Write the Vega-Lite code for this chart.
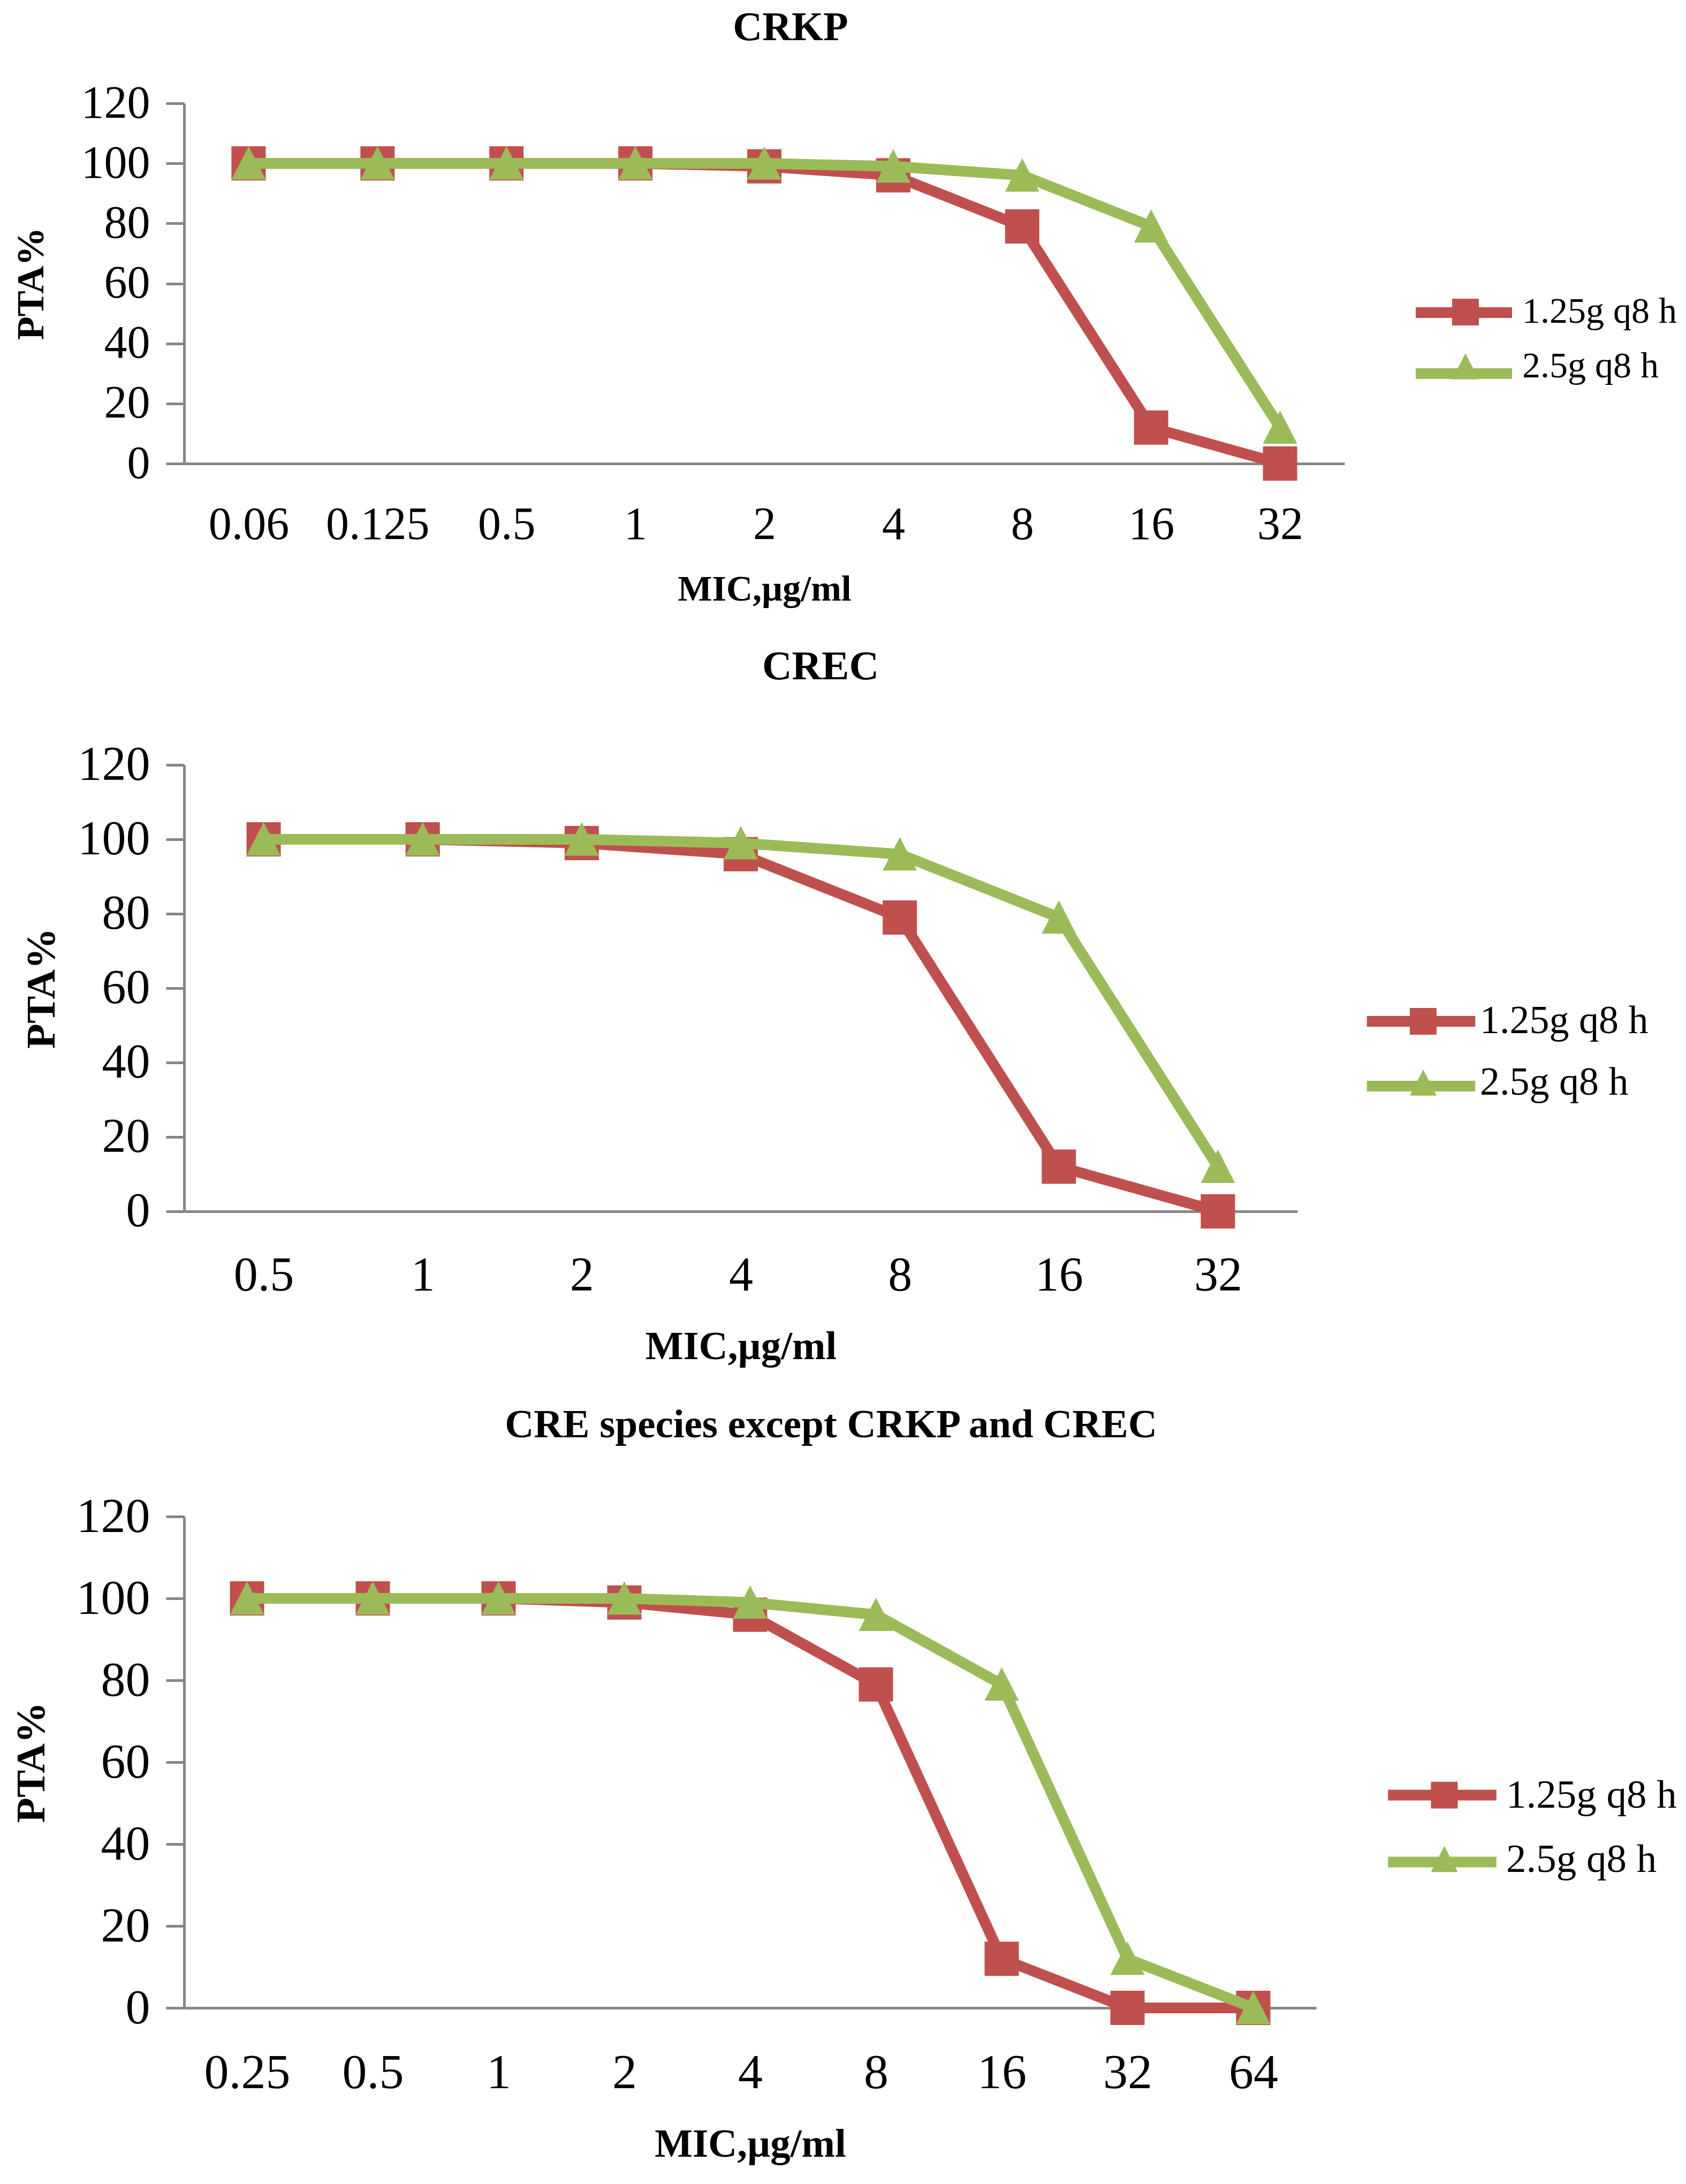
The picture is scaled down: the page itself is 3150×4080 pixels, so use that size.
{
  "$schema": "https://vega.github.io/schema/vega-lite/v6.json",
  "padding": {"left": 20, "top": 14, "right": 0, "bottom": 10},
  "background": "white",
  "columns": 1,
  "align": "none",
  "spacing": 72,
  "resolve": {"scale": {"color": "independent", "shape": "independent", "stroke": "independent"}},
  "config": {
    "font": "Liberation Serif",
    "view": {"stroke": null},
    "axis": {
      "grid": false,
      "domainColor": "#868686",
      "domainWidth": 5,
      "tickColor": "#868686",
      "tickWidth": 5,
      "labelColor": "#000000",
      "titleColor": "#000000",
      "labelFont": "Liberation Serif",
      "titleFont": "Liberation Serif",
      "titleFontWeight": "bold",
      "labelLimit": 2000
    },
    "legend": {
      "labelFont": "Liberation Serif",
      "labelColor": "#000000",
      "title": null,
      "padding": 0,
      "labelLimit": 2000
    },
    "title": {"font": "Liberation Serif", "fontWeight": "bold", "color": "#000000", "anchor": "middle", "frame": "group"}
  },
  "concat": [
    {
      "title": {"text": "CRKP", "fontSize": 76, "offset": 59, "dx": 49},
      "width": 2168,
      "height": 673,
      "data": {"values": [
        {"mic": "0.06", "series": "1.25g q8 h", "pta": 100},
        {"mic": "0.125", "series": "1.25g q8 h", "pta": 100},
        {"mic": "0.5", "series": "1.25g q8 h", "pta": 100},
        {"mic": "1", "series": "1.25g q8 h", "pta": 100},
        {"mic": "2", "series": "1.25g q8 h", "pta": 99},
        {"mic": "4", "series": "1.25g q8 h", "pta": 96},
        {"mic": "8", "series": "1.25g q8 h", "pta": 79},
        {"mic": "16", "series": "1.25g q8 h", "pta": 12},
        {"mic": "32", "series": "1.25g q8 h", "pta": 0},
        {"mic": "0.06", "series": "2.5g q8 h", "pta": 100},
        {"mic": "0.125", "series": "2.5g q8 h", "pta": 100},
        {"mic": "0.5", "series": "2.5g q8 h", "pta": 100},
        {"mic": "1", "series": "2.5g q8 h", "pta": 100},
        {"mic": "2", "series": "2.5g q8 h", "pta": 100},
        {"mic": "4", "series": "2.5g q8 h", "pta": 99},
        {"mic": "8", "series": "2.5g q8 h", "pta": 96},
        {"mic": "16", "series": "2.5g q8 h", "pta": 79},
        {"mic": "32", "series": "2.5g q8 h", "pta": 12}
      ]},
      "encoding": {
        "x": {"field": "mic", "type": "ordinal",
          "scale": {"type": "point", "padding": 0.5, "domain": ["0.06", "0.125", "0.5", "1", "2", "4", "8", "16", "32"]},
          "axis": {"title": "MIC,µg/ml", "labelAngle": 0, "ticks": false, "labelPadding": 72, "labelFontSize": 86, "titleFontSize": 68, "titlePadding": 44}},
        "y": {"field": "pta", "type": "quantitative",
          "scale": {"domain": [0, 120], "nice": false},
          "axis": {"title": "PTA%", "values": [0, 20, 40, 60, 80, 100, 120], "tickSize": 34, "labelPadding": 30, "labelFontSize": 86, "titleFontSize": 72, "titlePadding": 56}}
      },
      "layer": [
        {"transform": [{"filter": "datum.series === '1.25g q8 h'"}], "mark": {"type": "line", "strokeWidth": 20, "strokeJoin": "miter"},
          "encoding": {"stroke": {"field": "series", "type": "nominal", "scale": {"range": ["#C0504D", "#9BBB59"]},
            "legend": {"orient": "none", "legendX": 2356, "legendY": 356, "labelFontSize": 68, "symbolSize": 2500, "labelOffset": 72, "rowPadding": 34, "symbolType": "M-3.6,0H3.6", "symbolStrokeWidth": 20, "labelExpr": "''"}}}},
        {"transform": [{"filter": "datum.series === '1.25g q8 h'"}], "mark": {"type": "point", "filled": true, "opacity": 1, "size": 4096},
          "encoding": {
            "color": {"field": "series", "type": "nominal", "scale": {"domain": ["1.25g q8 h", "2.5g q8 h"], "range": ["#C0504D", "#9BBB59"]},
              "legend": {"orient": "none", "legendX": 2360, "legendY": 356, "labelFontSize": 68, "symbolSize": 2500, "labelOffset": 72, "rowPadding": 34, "symbolStrokeWidth": 0}},
            "shape": {"field": "series", "type": "nominal", "scale": {"domain": ["1.25g q8 h", "2.5g q8 h"], "range": ["M-1,-1H1V1H-1Z", "M0,-1L1,0.95L-1,0.95Z"]},
              "legend": {"orient": "none", "legendX": 2360, "legendY": 356, "labelFontSize": 68, "symbolSize": 2500, "labelOffset": 72, "rowPadding": 34, "symbolStrokeWidth": 0}}}},
        {"transform": [{"filter": "datum.series === '2.5g q8 h'"}], "mark": {"type": "line", "strokeWidth": 20, "strokeJoin": "miter"},
          "encoding": {"stroke": {"field": "series", "type": "nominal", "scale": {"range": ["#C0504D", "#9BBB59"]},
            "legend": {"orient": "none", "legendX": 2356, "legendY": 356, "labelFontSize": 68, "symbolSize": 2500, "labelOffset": 72, "rowPadding": 34, "symbolType": "M-3.6,0H3.6", "symbolStrokeWidth": 20, "labelExpr": "''"}}}},
        {"transform": [{"filter": "datum.series === '2.5g q8 h'"}], "mark": {"type": "point", "filled": true, "opacity": 1, "size": 4096},
          "encoding": {
            "color": {"field": "series", "type": "nominal", "scale": {"domain": ["1.25g q8 h", "2.5g q8 h"], "range": ["#C0504D", "#9BBB59"]},
              "legend": {"orient": "none", "legendX": 2360, "legendY": 356, "labelFontSize": 68, "symbolSize": 2500, "labelOffset": 72, "rowPadding": 34, "symbolStrokeWidth": 0}},
            "shape": {"field": "series", "type": "nominal", "scale": {"domain": ["1.25g q8 h", "2.5g q8 h"], "range": ["M-1,-1H1V1H-1Z", "M0,-1L1,0.95L-1,0.95Z"]},
              "legend": {"orient": "none", "legendX": 2360, "legendY": 356, "labelFontSize": 68, "symbolSize": 2500, "labelOffset": 72, "rowPadding": 34, "symbolStrokeWidth": 0}}}}
      ]
    },
    {
      "title": {"text": "CREC", "fontSize": 77, "offset": 99, "dx": 149},
      "width": 2080,
      "height": 834,
      "data": {"values": [
        {"mic": "0.5", "series": "1.25g q8 h", "pta": 100},
        {"mic": "1", "series": "1.25g q8 h", "pta": 100},
        {"mic": "2", "series": "1.25g q8 h", "pta": 99},
        {"mic": "4", "series": "1.25g q8 h", "pta": 96},
        {"mic": "8", "series": "1.25g q8 h", "pta": 79},
        {"mic": "16", "series": "1.25g q8 h", "pta": 12},
        {"mic": "32", "series": "1.25g q8 h", "pta": 0},
        {"mic": "0.5", "series": "2.5g q8 h", "pta": 100},
        {"mic": "1", "series": "2.5g q8 h", "pta": 100},
        {"mic": "2", "series": "2.5g q8 h", "pta": 100},
        {"mic": "4", "series": "2.5g q8 h", "pta": 99},
        {"mic": "8", "series": "2.5g q8 h", "pta": 96},
        {"mic": "16", "series": "2.5g q8 h", "pta": 79},
        {"mic": "32", "series": "2.5g q8 h", "pta": 12}
      ]},
      "encoding": {
        "x": {"field": "mic", "type": "ordinal",
          "scale": {"type": "point", "padding": 0.5, "domain": ["0.5", "1", "2", "4", "8", "16", "32"]},
          "axis": {"title": "MIC,µg/ml", "labelAngle": 0, "ticks": false, "labelPadding": 76, "labelFontSize": 90, "titleFontSize": 75, "titlePadding": 51}},
        "y": {"field": "pta", "type": "quantitative",
          "scale": {"domain": [0, 120], "nice": false},
          "axis": {"title": "PTA%", "values": [0, 20, 40, 60, 80, 100, 120], "tickSize": 34, "labelPadding": 30, "labelFontSize": 90, "titleFontSize": 77, "titlePadding": 28}}
      },
      "layer": [
        {"transform": [{"filter": "datum.series === '1.25g q8 h'"}], "mark": {"type": "line", "strokeWidth": 20, "strokeJoin": "miter"},
          "encoding": {"stroke": {"field": "series", "type": "nominal", "scale": {"range": ["#C0504D", "#9BBB59"]},
            "legend": {"orient": "none", "legendX": 2274, "legendY": 442, "labelFontSize": 74, "symbolSize": 2500, "labelOffset": 69, "rowPadding": 41, "symbolType": "M-4.05,0H4.05", "symbolStrokeWidth": 20, "labelExpr": "''"}}}},
        {"transform": [{"filter": "datum.series === '1.25g q8 h'"}], "mark": {"type": "point", "filled": true, "opacity": 1, "size": 4096},
          "encoding": {
            "color": {"field": "series", "type": "nominal", "scale": {"domain": ["1.25g q8 h", "2.5g q8 h"], "range": ["#C0504D", "#9BBB59"]},
              "legend": {"orient": "none", "legendX": 2278, "legendY": 442, "labelFontSize": 74, "symbolSize": 2500, "labelOffset": 69, "rowPadding": 41, "symbolStrokeWidth": 0}},
            "shape": {"field": "series", "type": "nominal", "scale": {"domain": ["1.25g q8 h", "2.5g q8 h"], "range": ["M-1,-1H1V1H-1Z", "M0,-1L1,0.95L-1,0.95Z"]},
              "legend": {"orient": "none", "legendX": 2278, "legendY": 442, "labelFontSize": 74, "symbolSize": 2500, "labelOffset": 69, "rowPadding": 41, "symbolStrokeWidth": 0}}}},
        {"transform": [{"filter": "datum.series === '2.5g q8 h'"}], "mark": {"type": "line", "strokeWidth": 20, "strokeJoin": "miter"},
          "encoding": {"stroke": {"field": "series", "type": "nominal", "scale": {"range": ["#C0504D", "#9BBB59"]},
            "legend": {"orient": "none", "legendX": 2274, "legendY": 442, "labelFontSize": 74, "symbolSize": 2500, "labelOffset": 69, "rowPadding": 41, "symbolType": "M-4.05,0H4.05", "symbolStrokeWidth": 20, "labelExpr": "''"}}}},
        {"transform": [{"filter": "datum.series === '2.5g q8 h'"}], "mark": {"type": "point", "filled": true, "opacity": 1, "size": 4096},
          "encoding": {
            "color": {"field": "series", "type": "nominal", "scale": {"domain": ["1.25g q8 h", "2.5g q8 h"], "range": ["#C0504D", "#9BBB59"]},
              "legend": {"orient": "none", "legendX": 2278, "legendY": 442, "labelFontSize": 74, "symbolSize": 2500, "labelOffset": 69, "rowPadding": 41, "symbolStrokeWidth": 0}},
            "shape": {"field": "series", "type": "nominal", "scale": {"domain": ["1.25g q8 h", "2.5g q8 h"], "range": ["M-1,-1H1V1H-1Z", "M0,-1L1,0.95L-1,0.95Z"]},
              "legend": {"orient": "none", "legendX": 2278, "legendY": 442, "labelFontSize": 74, "symbolSize": 2500, "labelOffset": 69, "rowPadding": 41, "symbolStrokeWidth": 0}}}}
      ]
    },
    {
      "title": {"text": "CRE species except CRKP and CREC", "fontSize": 75, "offset": 86, "dx": 151},
      "width": 2115,
      "height": 918,
      "data": {"values": [
        {"mic": "0.25", "series": "1.25g q8 h", "pta": 100},
        {"mic": "0.5", "series": "1.25g q8 h", "pta": 100},
        {"mic": "1", "series": "1.25g q8 h", "pta": 100},
        {"mic": "2", "series": "1.25g q8 h", "pta": 99},
        {"mic": "4", "series": "1.25g q8 h", "pta": 96},
        {"mic": "8", "series": "1.25g q8 h", "pta": 79},
        {"mic": "16", "series": "1.25g q8 h", "pta": 12},
        {"mic": "32", "series": "1.25g q8 h", "pta": 0},
        {"mic": "64", "series": "1.25g q8 h", "pta": 0},
        {"mic": "0.25", "series": "2.5g q8 h", "pta": 100},
        {"mic": "0.5", "series": "2.5g q8 h", "pta": 100},
        {"mic": "1", "series": "2.5g q8 h", "pta": 100},
        {"mic": "2", "series": "2.5g q8 h", "pta": 100},
        {"mic": "4", "series": "2.5g q8 h", "pta": 99},
        {"mic": "8", "series": "2.5g q8 h", "pta": 96},
        {"mic": "16", "series": "2.5g q8 h", "pta": 79},
        {"mic": "32", "series": "2.5g q8 h", "pta": 12},
        {"mic": "64", "series": "2.5g q8 h", "pta": 0}
      ]},
      "encoding": {
        "x": {"field": "mic", "type": "ordinal",
          "scale": {"type": "point", "padding": 0.5, "domain": ["0.25", "0.5", "1", "2", "4", "8", "16", "32", "64"]},
          "axis": {"title": "MIC,µg/ml", "labelAngle": 0, "ticks": false, "labelPadding": 76, "labelFontSize": 92, "titleFontSize": 75, "titlePadding": 51}},
        "y": {"field": "pta", "type": "quantitative",
          "scale": {"domain": [0, 120], "nice": false},
          "axis": {"title": "PTA%", "values": [0, 20, 40, 60, 80, 100, 120], "tickSize": 34, "labelPadding": 30, "labelFontSize": 92, "titleFontSize": 77, "titlePadding": 46}}
      },
      "layer": [
        {"transform": [{"filter": "datum.series === '1.25g q8 h'"}], "mark": {"type": "line", "strokeWidth": 20, "strokeJoin": "miter"},
          "encoding": {"stroke": {"field": "series", "type": "nominal", "scale": {"range": ["#C0504D", "#9BBB59"]},
            "legend": {"orient": "none", "legendX": 2313, "legendY": 483, "labelFontSize": 75, "symbolSize": 2500, "labelOffset": 78, "rowPadding": 44, "symbolType": "M-4.05,0H4.05", "symbolStrokeWidth": 20, "labelExpr": "''"}}}},
        {"transform": [{"filter": "datum.series === '1.25g q8 h'"}], "mark": {"type": "point", "filled": true, "opacity": 1, "size": 4096},
          "encoding": {
            "color": {"field": "series", "type": "nominal", "scale": {"domain": ["1.25g q8 h", "2.5g q8 h"], "range": ["#C0504D", "#9BBB59"]},
              "legend": {"orient": "none", "legendX": 2317, "legendY": 483, "labelFontSize": 75, "symbolSize": 2500, "labelOffset": 78, "rowPadding": 44, "symbolStrokeWidth": 0}},
            "shape": {"field": "series", "type": "nominal", "scale": {"domain": ["1.25g q8 h", "2.5g q8 h"], "range": ["M-1,-1H1V1H-1Z", "M0,-1L1,0.95L-1,0.95Z"]},
              "legend": {"orient": "none", "legendX": 2317, "legendY": 483, "labelFontSize": 75, "symbolSize": 2500, "labelOffset": 78, "rowPadding": 44, "symbolStrokeWidth": 0}}}},
        {"transform": [{"filter": "datum.series === '2.5g q8 h'"}], "mark": {"type": "line", "strokeWidth": 20, "strokeJoin": "miter"},
          "encoding": {"stroke": {"field": "series", "type": "nominal", "scale": {"range": ["#C0504D", "#9BBB59"]},
            "legend": {"orient": "none", "legendX": 2313, "legendY": 483, "labelFontSize": 75, "symbolSize": 2500, "labelOffset": 78, "rowPadding": 44, "symbolType": "M-4.05,0H4.05", "symbolStrokeWidth": 20, "labelExpr": "''"}}}},
        {"transform": [{"filter": "datum.series === '2.5g q8 h'"}], "mark": {"type": "point", "filled": true, "opacity": 1, "size": 4096},
          "encoding": {
            "color": {"field": "series", "type": "nominal", "scale": {"domain": ["1.25g q8 h", "2.5g q8 h"], "range": ["#C0504D", "#9BBB59"]},
              "legend": {"orient": "none", "legendX": 2317, "legendY": 483, "labelFontSize": 75, "symbolSize": 2500, "labelOffset": 78, "rowPadding": 44, "symbolStrokeWidth": 0}},
            "shape": {"field": "series", "type": "nominal", "scale": {"domain": ["1.25g q8 h", "2.5g q8 h"], "range": ["M-1,-1H1V1H-1Z", "M0,-1L1,0.95L-1,0.95Z"]},
              "legend": {"orient": "none", "legendX": 2317, "legendY": 483, "labelFontSize": 75, "symbolSize": 2500, "labelOffset": 78, "rowPadding": 44, "symbolStrokeWidth": 0}}}}
      ]
    }
  ]
}
